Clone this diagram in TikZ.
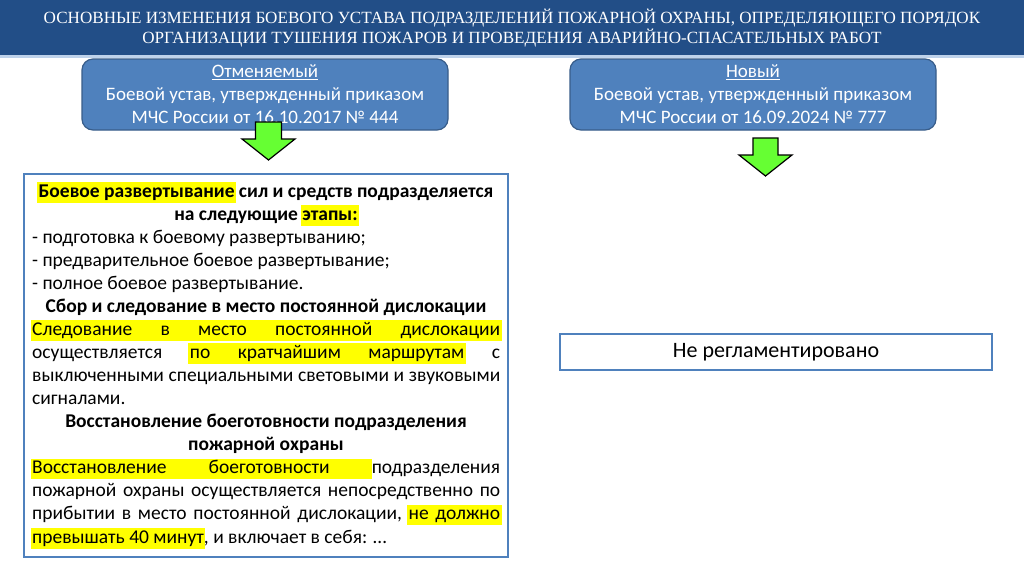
\documentclass[tikz,border=0pt]{standalone}
\usepackage{fontspec}
\setmainfont{Carlito}
\newfontfamily\hdrfont{Liberation Serif}
\usetikzlibrary{positioning}
\definecolor{hdrblue}{RGB}{34,78,135}
\definecolor{hdrline}{RGB}{190,210,235}
\definecolor{boxblue}{RGB}{79,129,189}
\definecolor{boxedge}{RGB}{56,93,138}
\definecolor{arrgreen}{RGB}{102,255,51}
\definecolor{hlyellow}{RGB}{255,255,0}
\tikzset{
  hdrtext/.style={text=white, align=center, inner sep=0pt, font=\hdrfont\fontsize{17.1}{20}\selectfont},
  topbox/.style={draw=boxedge, line width=1.2pt, fill=boxblue, rounded corners=11pt,
    minimum width=366pt, minimum height=71pt, text=white, align=center, inner sep=0pt,
    font=\fontsize{19}{23}\selectfont},
  greenarrow/.style={draw=black, line width=1.2pt, fill=arrgreen, line join=miter},
  mainbox/.style={draw=boxblue, line width=2pt, minimum width=484pt, minimum height=383pt, inner sep=0pt},
  rightbox/.style={draw=boxblue, line width=1.6pt, minimum width=432pt, minimum height=36pt, inner sep=0pt,
    font=\fontsize{22}{26}\selectfont},
  txt/.style={inner sep=0pt, font=\fontsize{19.5}{23}\selectfont},
  ctr/.style={txt, anchor=base},
  lft/.style={txt, anchor=base west},
}
\newlength\hlpad \setlength\hlpad{1.5pt}
\newcommand{\hlw}[1]{\setbox0\hbox{#1}\rlap{\kern-\hlpad\color{hlyellow}\rule[-5.5pt]{\dimexpr\wd0+2\hlpad\relax}{20.5pt}}\box0\relax}
\newcommand{\hlgap}{{\color{hlyellow}\leaders\hrule height 15pt depth 5.5pt\hfill}}
\newcommand{\jl}[1]{\hbox to 468pt{#1}}
\begin{document}
\begin{tikzpicture}[x=1pt,y=-1pt]
\useasboundingbox (0,0) rectangle (1024,574);
\fill[white] (0,0) rectangle (1024,574);
% header
\fill[hdrblue] (0,0) rectangle (1024,55);
\fill[hdrline] (0,55) rectangle (1024,57.5);
\node[hdrtext] (title) at (512,28.5) {ОСНОВНЫЕ ИЗМЕНЕНИЯ БОЕВОГО УСТАВА ПОДРАЗДЕЛЕНИЙ ПОЖАРНОЙ ОХРАНЫ, ОПРЕДЕЛЯЮЩЕГО ПОРЯДОК\\ОРГАНИЗАЦИИ ТУШЕНИЯ ПОЖАРОВ И ПРОВЕДЕНИЯ АВАРИЙНО-СПАСАТЕЛЬНЫХ РАБОТ};
% top boxes
\node[topbox] (old) at (265,94.5) {\underline{Отменяемый}\\Боевой устав, утвержденный приказом\\МЧС России от 16.10.2017 № 444};
\node[topbox] (new) at (753,94.5) {\underline{Новый}\\Боевой устав, утвержденный приказом\\МЧС России от 16.09.2024 № 777};
% arrows
\coordinate (a1) at (268.5,122);
\draw[greenarrow] (a1) ++(-13,0) -- ++(26,0) -- ++(0,17) -- ++(13.5,0) -- (268.5,160) -- (242,139) -- ++(13.5,0) -- cycle;
\coordinate (a2) at (765.5,138);
\draw[greenarrow] (a2) ++(-12.5,0) -- ++(25,0) -- ++(0,17) -- ++(14,0) -- (765.5,176) -- (739,155) -- ++(14,0) -- cycle;
% main box
\node[mainbox] (main) at (266,365.5) {};
% text lines
\node[ctr] (l1) at (266,197) {\bfseries \hlw{Боевое развертывание} сил и средств подразделяется};
\node[ctr] (l2) at (266,220) {\bfseries на следующие \hlw{этапы:}};
\node[lft] (l3) at (32,243) {- подготовка к боевому развертыванию;};
\node[lft] (l4) at (32,266) {- предварительное боевое развертывание;};
\node[lft] (l5) at (32,289) {- полное боевое развертывание.};
\node[ctr] (l6) at (266,312) {\bfseries Сбор и следование в место постоянной дислокации};
\node[lft] (l7) at (32,335.1) {\jl{\hlw{Следование}\hlgap\hlw{в}\hlgap\hlw{место}\hlgap\hlw{постоянной}\hlgap\hlw{дислокации}}};
\node[lft] (l8) at (32,358.2) {\jl{осуществляется\hfill\hlw{по}\hlgap\hlw{кратчайшим}\hlgap\hlw{маршрутам}\hfill с}};
\node[lft] (l9) at (32,381.3) {\jl{выключенными\hfill специальными\hfill световыми\hfill и\hfill звуковыми}};
\node[lft] (l10) at (32,404.4) {сигналами.};
\node[ctr] (l11) at (266,427.5) {\bfseries Восстановление боеготовности подразделения};
\node[ctr] (l12) at (266,450.6) {\bfseries пожарной охраны};
\node[lft] (l13) at (32,473.7) {\jl{\hlw{Восстановление}\hlgap\hlw{боеготовности}\hlgap подразделения}};
\node[lft] (l14) at (32,496.8) {\jl{пожарной\hfill охраны\hfill осуществляется\hfill непосредственно\hfill по}};
\node[lft] (l15) at (32,519.9) {\jl{прибытии\hfill в\hfill место\hfill постоянной\hfill дислокации,\hfill\hlw{не}\hlgap\hlw{должно}}};
\node[lft] (l16) at (32,543) {\hlw{превышать 40 минут}, и включает в себя: …};
% right box
\node[rightbox] (nr) at (776,352) {Не регламентировано};
\end{tikzpicture}
\end{document}
